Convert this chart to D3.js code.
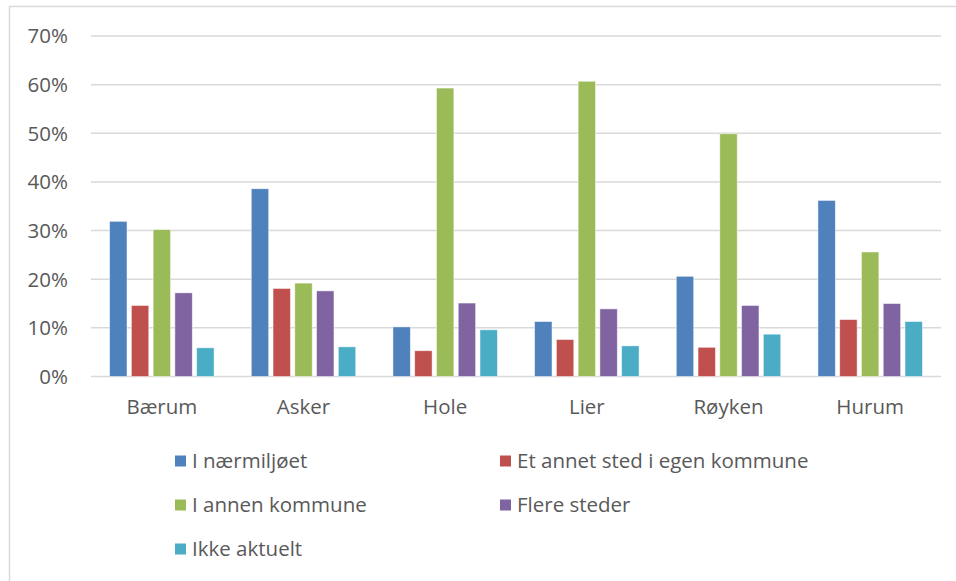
<!DOCTYPE html>
<html>
<head>
<meta charset="utf-8">
<script src="https://cdn.jsdelivr.net/npm/d3@7"></script>
<style>
  body { margin: 0; background: #fff; }
  text { font-family: "Open Sans", sans-serif; fill: #595959; }
</style>
</head>
<body>
<svg id="chart"></svg>
<script>
// kommuner and series
const categories = ['Bærum', 'Asker', 'Hole', 'Lier', 'Røyken', 'Hurum'];
const seriesNames = ['I nærmiljøet', 'Et annet sted i egen kommune', 'I annen kommune', 'Flere steder', 'Ikke aktuelt'];
const seriesColors = ['#4F81BD', '#C0504D', '#9BBB59', '#8064A2', '#4BACC6'];

// values in percent, one array per series (same order as categories)
const narmiljoet = [31.9, 38.6, 10.2, 11.3, 20.6, 36.2];
const egenKommune = [14.6, 18.1, 5.3, 7.6, 6.0, 11.7];
const annenKommune = [30.2, 19.2, 59.3, 60.7, 49.9, 25.6];
const flereSteder = [17.2, 17.6, 15.1, 13.9, 14.6, 15.0];
const ikkeAktuelt = [5.9, 6.1, 9.6, 6.3, 8.7, 11.3];

const yTicks = [0, 10, 20, 30, 40, 50, 60, 70];

const seriesValues = [narmiljoet, egenKommune, annenKommune, flereSteder, ikkeAktuelt];

const width = 956, height = 581;
const margin = { top: 36, right: 15, bottom: 205, left: 91 };
const fontSize = '20.5px';

const svg = d3.select('#chart')
    .attr('width', width)
    .attr('height', height);

// chart frame
svg.append('rect')
    .attr('x', 9.5)
    .attr('y', 6.5)
    .attr('width', 960)
    .attr('height', 600)
    .attr('fill', 'none')
    .attr('stroke', '#d9d9d9')
    .attr('stroke-width', 1.5);

const x0 = d3.scaleBand()
    .domain(categories)
    .range([margin.left, width - margin.right])
    .paddingInner(0)
    .paddingOuter(0);

const x1 = d3.scaleBand()
    .domain(seriesNames)
    .range([0, x0.bandwidth()])
    .paddingInner(0.2)
    .paddingOuter(0.855);

const y = d3.scaleLinear()
    .domain([0, 70])
    .range([height - margin.bottom + 0.5, margin.top]);

// gridlines
svg.append('g')
    .selectAll('line')
    .data(yTicks)
    .join('line')
    .attr('x1', margin.left)
    .attr('x2', width - margin.right)
    .attr('y1', d => y(d))
    .attr('y2', d => y(d))
    .attr('stroke', '#d9d9d9')
    .attr('stroke-width', 1.5);

// y labels
svg.append('g')
    .selectAll('text')
    .data(yTicks)
    .join('text')
    .attr('x', 68)
    .attr('y', d => y(d))
    .attr('dy', '0.36em')
    .attr('text-anchor', 'end')
    .attr('font-size', fontSize)
    .text(d => d + '%');

// bars
const groups = svg.append('g')
    .selectAll('g')
    .data(categories)
    .join('g')
    .attr('transform', d => `translate(${x0(d)},0)`);

groups.selectAll('rect')
    .data((c, ci) => seriesNames.map((s, si) => ({ s, si, v: seriesValues[si][ci] })))
    .join('rect')
    .attr('x', d => x1(d.s))
    .attr('width', x1.bandwidth())
    .attr('y', d => y(d.v))
    .attr('height', d => y(0) - y(d.v))
    .attr('fill', d => seriesColors[d.si])
    .attr('stroke', '#fff')
    .attr('stroke-opacity', 0.6)
    .attr('stroke-width', 0.8);

// category labels
svg.append('g')
    .selectAll('text')
    .data(categories)
    .join('text')
    .attr('x', d => x0(d) + x0.bandwidth() / 2)
    .attr('y', 407)
    .attr('dy', '0.36em')
    .attr('text-anchor', 'middle')
    .attr('font-size', fontSize)
    .text(d => d);

// legend
const legendPos = [[175, 461], [500, 461], [175, 505], [500, 505], [175, 549]];
const legend = svg.append('g')
    .selectAll('g')
    .data(seriesNames)
    .join('g')
    .attr('transform', (d, i) => `translate(${legendPos[i][0]},${legendPos[i][1]})`);

legend.append('rect')
    .attr('x', 0)
    .attr('y', -5.5)
    .attr('width', 11)
    .attr('height', 11)
    .attr('fill', (d, i) => seriesColors[i]);

legend.append('text')
    .attr('x', 17)
    .attr('y', 0)
    .attr('dy', '0.36em')
    .attr('font-size', fontSize)
    .text(d => d);
</script>
</body>
</html>
